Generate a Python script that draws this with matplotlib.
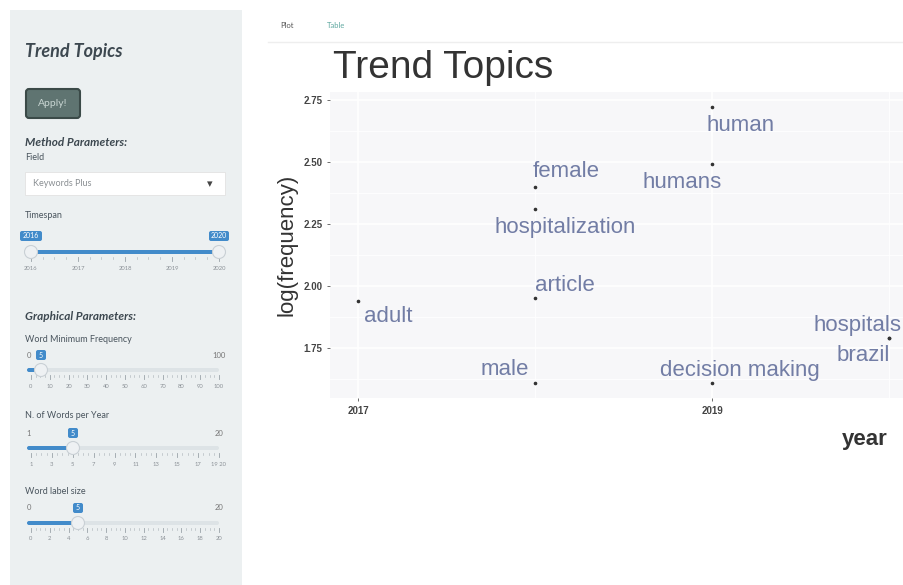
import matplotlib
matplotlib.use("Agg")
import matplotlib.pyplot as plt
from matplotlib.patches import Rectangle, FancyBboxPatch, Circle

# ---------------- data ----------------
words = ["adult", "article", "male", "female", "hospitalization",
         "humans", "human", "decision making", "hospitals", "brazil"]
years = [2017, 2018, 2018, 2018, 2018, 2019, 2019, 2019, 2020, 2020]
log_freq = [1.94, 1.95, 1.61, 2.40, 2.31, 2.49, 2.72, 1.61, 1.79, 1.79]
# label offsets (points) mimicking ggrepel placement
label_dx = [30, 30, -30, 31, 30, -30, 29, 28, -31, -26]
label_dy = [-16, 13, 13, 15, -18, -18, -18, 12, 12, -18]

x_ticks = [2017, 2019]
y_ticks = [1.75, 2.00, 2.25, 2.50, 2.75]
y_tick_labels = ["1.75", "2.00", "2.25", "2.50", "2.75"]

timespan_ticks = ["2016", "2017", "2018", "2019", "2020"]
minfreq_ticks = ["0", "10", "20", "30", "40", "50", "60", "70", "80", "90", "100"]
nwords_ticks = ["1", "3", "5", "7", "9", "11", "13", "15", "17", "19 20"]
labelsize_ticks = ["0", "2", "4", "6", "8", "10", "12", "14", "16", "18", "20"]

W, H = 904, 585
fig = plt.figure(figsize=(W / 100, H / 100), dpi=100)
fig.patch.set_facecolor("white")

# ---------------- page overlay (pixel coords) ----------------
bg = fig.add_axes([0, 0, 1, 1], zorder=0)
bg.set_xlim(0, W)
bg.set_ylim(H, 0)
bg.axis("off")

SIDE = "#ecf0f1"
TXT = "#4a555e"
BLUE = "#428bca"
bg.add_patch(Rectangle((10, 10), 232, 580, facecolor=SIDE, edgecolor="none"))

F = "Lato"
bg.text(25, 52, "Trend Topics", fontsize=13, fontstyle="italic", fontweight="bold",
        color="#3d4850", family=F, va="center")
bg.add_patch(FancyBboxPatch((26, 89), 54, 29, boxstyle="round,pad=0,rounding_size=3",
                            facecolor="#5f7471", edgecolor="#3b4a48", lw=1.5))
bg.text(53, 104, "Apply!", fontsize=7.5, color="#c9d6d3", family=F, ha="center", va="center")
bg.text(25, 143, "Method Parameters:", fontsize=8.5, fontstyle="italic", fontweight="bold",
        color="#3d4850", family=F, va="center")
bg.text(25, 158, "Field", fontsize=6.5, color=TXT, family=F, va="center")
bg.add_patch(Rectangle((25, 172), 200, 23, facecolor="white", edgecolor="#e2e2e2", lw=0.6))
bg.text(33, 184, "Keywords Plus", fontsize=6.5, color="#8a8f93", family=F, va="center")
bg.text(210, 184, "\u25BE", fontsize=8, color="#444444", family="DejaVu Sans", ha="center", va="center")
bg.text(25, 216, "Timespan", fontsize=6.5, color=TXT, family=F, va="center")


def slider(y_lab, y_track, x0, x1, fill_from, fill_to, left_txt, sel_txt, sel_x,
           right_txt, right_sel, ticks, handles):
    # labels above the track
    if left_txt is not None:
        bg.text(x0 - 2, y_lab, left_txt, fontsize=5.5, color="#777", family=F,
                ha="center", va="center")
    if right_txt is not None:
        if right_sel:
            bg.add_patch(FancyBboxPatch((x1 - 10, y_lab - 5), 20, 10,
                                        boxstyle="round,pad=0,rounding_size=2",
                                        facecolor=BLUE, edgecolor="none"))
            bg.text(x1, y_lab, right_txt, fontsize=5, color="white", family=F,
                    ha="center", va="center")
        else:
            bg.text(x1, y_lab, right_txt, fontsize=5.5, color="#777", family=F,
                    ha="center", va="center")
    if sel_txt is not None:
        w = 6 + 4 * len(sel_txt)
        bg.add_patch(FancyBboxPatch((sel_x - w / 2, y_lab - 5), w, 10,
                                    boxstyle="round,pad=0,rounding_size=2",
                                    facecolor=BLUE, edgecolor="none"))
        bg.text(sel_x, y_lab, sel_txt, fontsize=5, color="white", family=F,
                ha="center", va="center")
    # track
    bg.add_patch(FancyBboxPatch((x0, y_track - 2), x1 - x0, 4,
                                boxstyle="round,pad=0,rounding_size=2",
                                facecolor="#dde3e6", edgecolor="none"))
    bg.add_patch(FancyBboxPatch((fill_from, y_track - 2), fill_to - fill_from, 4,
                                boxstyle="round,pad=0,rounding_size=2",
                                facecolor=BLUE, edgecolor="none"))
    for hx in handles:
        bg.add_patch(Circle((hx, y_track), 6.5, facecolor="#eef1f3",
                            edgecolor="#c9d0d5", lw=0.8, zorder=3))
    n = len(ticks)
    for i, t in enumerate(ticks):
        tx = x0 + (x1 - x0) * i / (n - 1)
        bg.plot([tx, tx], [y_track + 5, y_track + 9], color="#9aa3a9", lw=0.6)
        bg.text(tx, y_track + 16, t, fontsize=4.2, color="#8a9096", family=F,
                ha="center", va="center")
        if i < n - 1:
            for k in range(1, 4):
                mx = tx + (x1 - x0) / (n - 1) * k / 4
                bg.plot([mx, mx], [y_track + 5, y_track + 7], color="#b5bcc1", lw=0.5)


# timespan (both ends selected)
bg.add_patch(FancyBboxPatch((20, 231), 22, 10, boxstyle="round,pad=0,rounding_size=2",
                            facecolor=BLUE, edgecolor="none"))
bg.text(31, 236, timespan_ticks[0], fontsize=5, color="white", family=F, ha="center", va="center")
slider(236, 252, 31, 219, 31, 219, None, None, 0, timespan_ticks[-1], True,
       timespan_ticks, [31, 219])

bg.text(25, 317, "Graphical Parameters:", fontsize=8.5, fontstyle="italic", fontweight="bold",
        color="#3d4850", family=F, va="center")
bg.text(25, 340, "Word Minimum Frequency", fontsize=6.5, color=TXT, family=F, va="center")
slider(355, 370, 31, 219, 27, 41, "0", "5", 41, "100", False, minfreq_ticks, [41])

bg.text(25, 416, "N. of Words per Year", fontsize=6.5, color=TXT, family=F, va="center")
slider(433, 448, 31, 219, 27, 73, "1", "5", 73, "20", False, nwords_ticks, [73])

bg.text(25, 492, "Word label size", fontsize=6.5, color=TXT, family=F, va="center")
slider(508, 523, 31, 219, 27, 78, "0", "5", 78, "20", False, labelsize_ticks, [78])

# tabs
bg.text(287, 26, "Plot", fontsize=5.5, color="#555", family=F, ha="center", va="center")
bg.text(336, 26, "Table", fontsize=5.5, color="#5fa8a0", family=F, ha="center", va="center")
bg.plot([268, 904], [42, 42], color="#eeeeee", lw=1)

# ---------------- main plot ----------------
ax = fig.add_axes([330 / W, 1 - 398 / H, (903 - 330) / W, (398 - 92) / H], zorder=2)
ax.set_facecolor("#f7f7f9")
for s in ax.spines.values():
    s.set_visible(False)
ax.set_xlim(2016.84, 2020.08)
ax.set_ylim(1.548, 2.782)
ax.set_xticks(x_ticks)
ax.set_xticklabels([str(v) for v in x_ticks])
ax.set_xticks([2018, 2020], minor=True)
ax.set_yticks(y_ticks)
ax.set_yticklabels(y_tick_labels)
ax.set_yticks([1.625, 1.875, 2.125, 2.375, 2.625], minor=True)
ax.grid(True, which="major", color="white", lw=1.2)
ax.grid(True, which="minor", color="white", lw=0.6)
ax.set_axisbelow(True)
ax.tick_params(which="major", length=2.5, width=0.6, color="#555555",
               labelsize=7, labelcolor="#444444", pad=3)
ax.tick_params(which="minor", length=0)
for lab in ax.get_xticklabels() + ax.get_yticklabels():
    lab.set_fontweight("bold")
    lab.set_family("Liberation Sans")

ax.plot(years, log_freq, "o", color="#333333", markersize=1.6, zorder=3, linestyle="none")
for w, x, y, dx, dy in zip(words, years, log_freq, label_dx, label_dy):
    ax.annotate(w, (x, y), xytext=(dx * 0.72, dy * 0.72), textcoords="offset points",
                ha="center", va="center", fontsize=16, color="#727da5",
                family="Liberation Sans", zorder=4)

ax.set_ylabel("log(frequency)", fontsize=16, color="#333333", family="Liberation Sans",
              labelpad=4)
ax.text((888 - 330) / 573, -0.135, "year", transform=ax.transAxes, ha="right", va="center",
        fontsize=16, fontweight="bold", color="#333333", family="Liberation Sans")
fig.text(333 / W, 1 - 68 / H, "Trend Topics", fontsize=28, color="#333333",
         family="Liberation Sans", va="center", ha="left")

fig.savefig("out.png", dpi=100)
